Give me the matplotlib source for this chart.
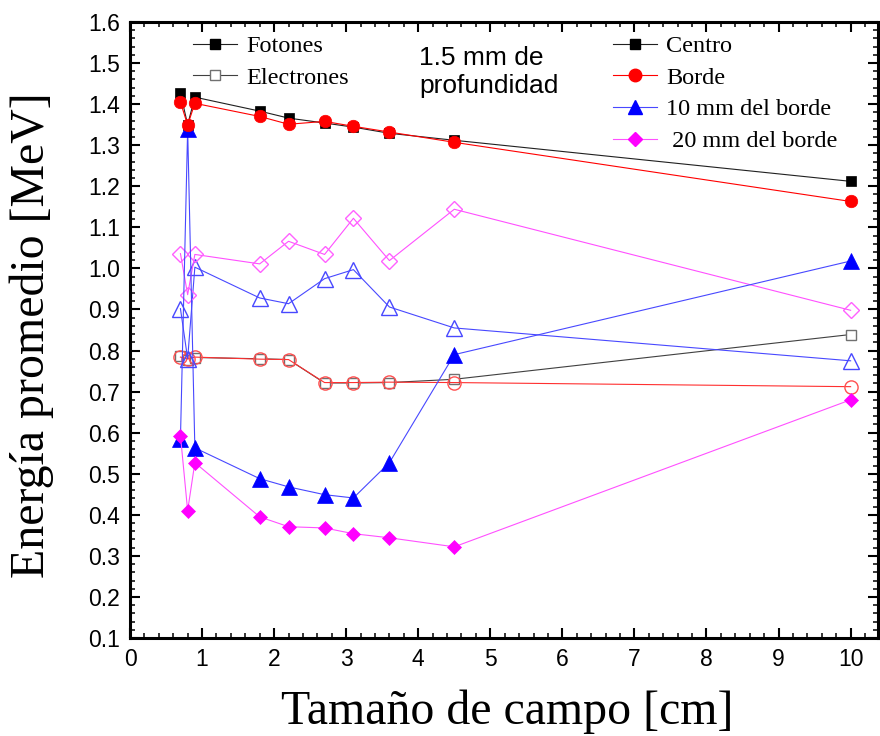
import numpy as np
import matplotlib
matplotlib.use("Agg")
import matplotlib.pyplot as plt
from matplotlib.lines import Line2D

# field size [cm]
campo = [0.7, 0.8, 0.9, 1.8, 2.2, 2.7, 3.1, 3.6, 4.5, 10]

# fotones (filled markers)
fot_centro = [1.427, 1.350, 1.417, 1.383, 1.366, 1.354, 1.344, 1.329, 1.312, 1.212]
fot_borde = [1.405, 1.349, 1.402, 1.370, 1.351, 1.358, 1.346, 1.332, 1.307, 1.163]
fot_10mm = [0.585, 1.339, 0.563, 0.488, 0.468, 0.449, 0.441, 0.527, 0.790, 1.018]
fot_20mm = [0.593, 0.410, 0.527, 0.395, 0.371, 0.368, 0.354, 0.344, 0.322, 0.680]

# electrones (open markers)
ele_centro = [0.786, 0.777, 0.783, 0.780, 0.778, 0.721, 0.721, 0.722, 0.730, 0.839]
ele_borde = [0.784, 0.780, 0.784, 0.779, 0.778, 0.722, 0.722, 0.723, 0.722, 0.712]
ele_10mm = [0.902, 0.780, 1.003, 0.928, 0.914, 0.975, 0.997, 0.906, 0.855, 0.775]
ele_20mm = [1.036, 0.936, 1.034, 1.011, 1.066, 1.034, 1.122, 1.019, 1.144, 0.898]

serif = "Liberation Serif"
sans = "Liberation Sans"
plt.rcParams["font.family"] = sans

fig = plt.figure(figsize=(8.8, 7.36), dpi=100)
ax = fig.add_axes([130 / 880, 1 - 638 / 736, 748 / 880, 616 / 736])

lw = 0.8
# electrones
ax.plot(campo, ele_centro, "-s", color="#404040", lw=lw, ms=7.5, mfc="white", mec="#707070", mew=1.0)
ax.plot(campo, ele_borde, "-o", color="#ff3030", lw=lw, ms=9.5, mfc="none", mec="#ff5050", mew=1.0)
ax.plot(campo, ele_10mm, "-^", color="#4848ff", lw=lw, ms=11, mfc="none", mec="#4848ff", mew=1.0)
ax.plot(campo, ele_20mm, "-D", color="#ff50ff", lw=lw, ms=8, mfc="none", mec="#ff60ff", mew=1.0)
# fotones
ax.plot(campo, fot_centro, "-s", color="#202020", lw=lw, ms=7.5, mfc="black", mec="black", mew=0.5)
ax.plot(campo, fot_10mm, "-^", color="#4848ff", lw=lw, ms=11, mfc="#0000ff", mec="#0000ff", mew=0.5)
ax.plot(campo, fot_20mm, "-D", color="#ff50ff", lw=lw, ms=7.5, mfc="#ff00ff", mec="#ff00ff", mew=0.5)
ax.plot(campo, fot_borde, "-o", color="#ff0000", lw=lw, ms=9, mfc="#ff0000", mec="#ff0000", mew=0.5)

ax.set_xlim(0, 10.38)
ax.set_ylim(0.1, 1.6)
ax.set_xticks(np.arange(0, 11, 1))
ax.set_xticks(np.arange(0, 10.4, 0.2), minor=True)
ax.set_yticks(np.arange(0.1, 1.61, 0.1))
ax.set_yticks(np.arange(0.1, 1.601, 0.02), minor=True)
ax.yaxis.set_major_formatter(matplotlib.ticker.FormatStrFormatter("%.1f"))
ax.tick_params(which="both", direction="in", top=True, right=True, labelsize=16.5)
ax.tick_params(which="major", length=7, width=1.5, pad=7)
ax.tick_params(which="minor", length=3.5, width=1.1)
for s in ax.spines.values():
    s.set_linewidth(2.2)

fig.text(507 / 880, 1 - 712 / 736, "Tamaño de campo [cm]", family=serif, fontsize=34.5,
         ha="center", va="center")
fig.text(32 / 880, 1 - 335 / 736, "Energía promedio [MeV]", family=serif, fontsize=34.5,
         ha="center", va="center", rotation=90)

ax.text(419 / 880, 1 - 72 / 736, "1.5 mm de\nprofundidad", transform=fig.transFigure,
        fontsize=19, ha="left", va="center", linespacing=1.25)

# legends
h1 = [Line2D([], [], color="#202020", lw=lw, marker="s", ms=7, mfc="black", mec="black"),
      Line2D([], [], color="#404040", lw=lw, marker="s", ms=7, mfc="white", mec="#707070")]
leg1 = ax.legend(h1, ["Fotones", "Electrones"], loc="upper left",
                 bbox_to_anchor=(193 / 880, 1 - 35 / 736), bbox_transform=fig.transFigure,
                 frameon=False, prop={"family": serif, "size": 17.5}, borderpad=0,
                 borderaxespad=0, handlelength=1.8, handletextpad=0.4, labelspacing=0.4)
ax.add_artist(leg1)

h2 = [Line2D([], [], color="#202020", lw=lw, marker="s", ms=7, mfc="black", mec="black"),
      Line2D([], [], color="#ff0000", lw=lw, marker="o", ms=9, mfc="#ff0000", mec="#ff0000"),
      Line2D([], [], color="#4848ff", lw=lw, marker="^", ms=10, mfc="#0000ff", mec="#0000ff"),
      Line2D([], [], color="#ff50ff", lw=lw, marker="D", ms=7.5, mfc="#ff00ff", mec="#ff00ff")]
ax.legend(h2, ["Centro", "Borde", "10 mm del borde", " 20 mm del borde"], loc="upper left",
          bbox_to_anchor=(613 / 880, 1 - 35 / 736), bbox_transform=fig.transFigure,
          frameon=False, prop={"family": serif, "size": 17.5}, borderpad=0,
          borderaxespad=0, handlelength=1.8, handletextpad=0.4, labelspacing=0.4)

fig.savefig("out.png", dpi=100)
